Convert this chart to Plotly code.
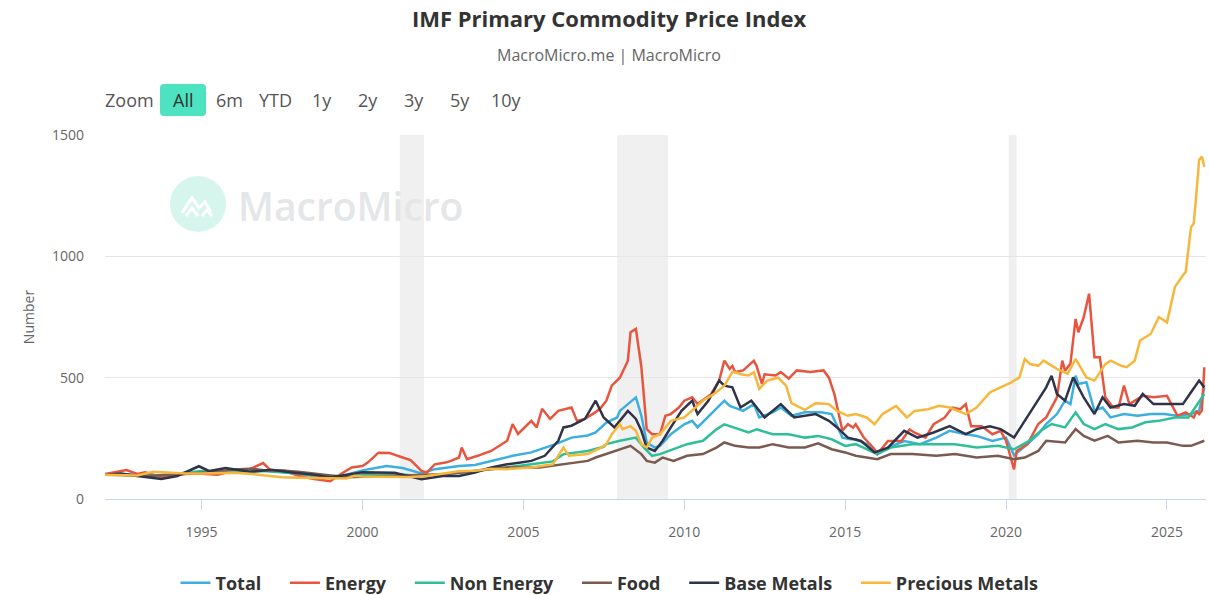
import plotly.graph_objects as go

# ---------------- data ----------------
total_dates = ["1992-01","1992-07","1993-01","1993-07","1994-01","1994-07","1995-01","1995-07","1996-01","1996-07",
               "1997-01","1997-07","1998-01","1998-07","1999-01","1999-07","2000-01","2000-07","2000-10","2001-04",
               "2001-11","2002-04","2003-01","2003-07","2004-01","2004-09","2005-04","2006-01","2006-07","2007-01",
               "2007-04","2007-08","2007-12","2008-01","2008-07","2008-09","2008-11","2009-02","2009-04","2009-08",
               "2010-01","2010-04","2010-06","2010-11","2011-04","2011-06","2011-11","2012-03","2012-05","2012-10",
               "2013-01","2013-05","2013-10","2014-04","2014-08","2014-12","2015-03","2015-05","2015-09","2016-01",
               "2016-05","2016-11","2017-05","2017-11","2018-04","2018-10","2019-02","2019-08","2020-01","2020-04",
               "2020-09","2021-01","2021-04","2021-08","2021-11","2022-01","2022-03","2022-04","2022-07","2022-10",
               "2023-01","2023-04","2023-09","2024-02","2024-07","2024-12","2025-05","2025-10","2026-01","2026-03"]
total_vals = [100,103,100,98,97,105,112,110,115,117,
              118,112,104,95,88,100,118,130,136,128,
              105,123,136,140,157,178,192,226,253,262,
              274,315,336,363,419,343,233,212,219,267,
              308,322,295,350,405,384,363,391,336,357,
              377,343,357,357,350,253,246,246,226,185,
              212,239,226,253,281,267,260,239,253,180,
              226,267,309,350,405,391,508,474,481,364,
              377,336,350,343,350,350,343,350,364,460]

energy_dates = ["1992-01","1992-07","1992-09","1993-01","1993-04","1993-10","1994-03","1994-07","1994-12","1995-07",
                "1996-01","1996-07","1996-12","1997-03","1997-08","1998-01","1998-07","1999-01","1999-05","1999-09",
                "2000-01","2000-03","2000-07","2000-11","2001-04","2001-07","2001-11","2002-01","2002-04","2002-08",
                "2002-10","2003-01","2003-02","2003-04","2003-08","2004-01","2004-07","2004-09","2004-11","2005-04",
                "2005-06","2005-08","2005-11","2006-02","2006-07","2006-09","2006-12","2007-04","2007-06","2007-08",
                "2007-10","2008-01","2008-04","2008-05","2008-07","2008-09","2008-11","2009-01","2009-04","2009-06",
                "2009-08","2009-11","2010-01","2010-04","2010-06","2010-11","2011-02","2011-04","2011-06","2011-07",
                "2011-08","2011-11","2012-03","2012-04","2012-06","2012-07","2012-11","2013-01","2013-04","2013-07",
                "2013-12","2014-05","2014-07","2014-09","2014-12","2015-02","2015-04","2015-05","2015-08","2015-12",
                "2016-01","2016-05","2016-10","2017-01","2017-03","2017-07","2017-10","2018-02","2018-05","2018-08",
                "2018-10","2018-12","2019-04","2019-08","2019-11","2020-01","2020-04","2020-05","2020-09","2021-01",
                "2021-04","2021-08","2021-10","2021-11","2022-01","2022-03","2022-04","2022-06","2022-08","2022-10",
                "2022-12","2023-02","2023-05","2023-07","2023-09","2023-11","2024-04","2024-08","2025-01","2025-05",
                "2025-08","2025-11","2025-12","2026-01","2026-02","2026-03"]
energy_vals = [103,116,119,103,110,89,96,103,105,100,
               116,123,148,116,116,96,82,73,103,130,
               136,150,191,190,171,160,116,109,143,150,
               157,171,212,164,178,198,240,309,268,322,
               295,372,330,363,377,322,330,358,377,405,
               467,500,570,687,701,544,288,267,267,343,
               350,377,405,419,391,432,488,570,536,548,
               523,530,570,548,474,514,509,523,496,530,
               523,530,500,432,281,308,294,308,253,205,
               185,239,239,287,273,253,308,335,377,370,
               391,300,300,267,281,240,122,198,226,309,
               336,419,570,529,557,742,687,749,846,584,
               584,419,377,377,467,391,425,419,425,343,
               357,336,360,350,365,543]

nonenergy_dates = ["1992-01","1992-07","1993-01","1993-07","1994-01","1994-07","1995-01","1995-07","1996-01","1996-07",
                   "1997-01","1997-07","1998-01","1998-07","1999-01","1999-07","2000-01","2000-07","2001-01","2001-07",
                   "2001-11","2002-07","2003-01","2003-07","2004-01","2004-07","2005-04","2005-12","2006-04","2007-01",
                   "2007-07","2007-08","2008-01","2008-07","2008-10","2009-01","2009-04","2009-09","2010-02","2010-08",
                   "2011-01","2011-04","2011-08","2012-01","2012-04","2012-10","2013-04","2013-10","2014-03","2014-08",
                   "2015-01","2015-05","2016-01","2016-06","2017-02","2017-11","2018-06","2019-02","2019-10","2020-04",
                   "2020-09","2021-02","2021-06","2021-11","2022-03","2022-06","2022-10","2023-02","2023-07","2023-12",
                   "2024-05","2024-10","2025-04","2025-09","2026-01","2026-03"]
nonenergy_vals = [100,100,95,96,100,108,115,114,116,115,
                  114,110,105,98,95,96,102,105,103,98,
                  95,102,108,116,125,130,143,155,185,198,
                  215,226,240,253,212,178,185,205,226,240,
                  287,308,294,274,287,267,267,253,260,246,
                  219,226,185,212,226,226,226,212,219,205,
                  235,281,309,295,357,309,288,309,288,295,
                  316,322,336,336,398,433]

food_dates = ["1992-01","1992-07","1993-01","1993-07","1994-01","1994-07","1995-01","1995-07","1996-01","1996-07",
              "1997-01","1997-07","1998-01","1998-07","1999-01","1999-07","2000-01","2000-07","2001-01","2001-07",
              "2002-01","2002-07","2003-01","2003-07","2004-01","2004-07","2005-07","2006-04","2007-01","2007-04",
              "2007-08","2008-01","2008-05","2008-09","2008-11","2009-02","2009-05","2009-09","2010-02","2010-08",
              "2011-01","2011-04","2011-08","2012-01","2012-05","2012-10","2013-04","2013-10","2014-03","2014-08",
              "2015-01","2015-05","2016-01","2016-06","2017-02","2017-11","2018-06","2019-02","2019-10","2020-04",
              "2020-08","2021-01","2021-04","2021-11","2022-03","2022-06","2022-10","2023-03","2023-07","2024-02",
              "2024-08","2025-01","2025-07","2025-10","2026-03"]
food_vals = [100,98,95,96,100,105,108,112,122,125,
             118,117,112,105,98,90,92,94,96,98,
             100,102,108,116,125,130,130,143,157,171,
             185,205,219,185,157,150,171,157,178,185,
             212,233,219,212,212,226,212,212,229,205,
             192,178,164,185,185,178,185,171,178,164,
             171,198,240,233,288,260,240,260,233,240,
             233,233,219,219,240]

base_dates = ["1992-01","1992-07","1993-01","1993-07","1993-10","1994-04","1994-07","1994-12","1995-04","1995-10",
              "1996-07","1997-03","1997-10","1998-07","1999-01","1999-08","2000-01","2000-07","2001-01","2001-11",
              "2002-07","2003-01","2003-07","2004-01","2004-07","2004-12","2005-04","2005-09","2006-02","2006-04",
              "2006-07","2006-12","2007-04","2007-07","2007-11","2008-04","2008-07","2008-09","2008-11","2009-02",
              "2009-05","2009-08","2009-12","2010-04","2010-06","2010-10","2011-02","2011-04","2011-07","2011-10",
              "2012-02","2012-07","2013-01","2013-06","2014-02","2014-07","2014-10","2015-02","2015-07","2015-12",
              "2016-05","2016-11","2017-04","2017-10","2018-04","2018-10","2019-02","2019-07","2019-11","2020-04",
              "2020-08","2021-01","2021-04","2021-06","2021-08","2021-11","2022-02","2022-06","2022-10","2023-01",
              "2023-04","2023-09","2024-01","2024-04","2024-08","2025-01","2025-07","2025-10","2026-01","2026-03"]
base_vals = [100,105,95,88,82,95,110,135,115,128,
             112,120,110,100,89,100,110,109,108,81,
             95,95,109,130,143,150,157,178,240,295,
             302,330,405,336,295,363,330,281,212,198,
             240,295,363,405,350,405,488,467,460,377,
             405,336,391,336,350,322,295,253,239,192,
             212,281,253,274,300,267,288,300,288,253,
             322,405,460,508,433,405,501,419,350,419,
             377,391,384,433,391,391,391,440,488,460]

precious_dates = ["1992-01","1992-07","1993-01","1993-07","1994-01","1994-07","1995-01","1995-07","1996-01","1996-07",
                  "1997-01","1997-07","1998-01","1998-07","1999-01","1999-07","1999-10","2000-01","2000-07","2001-01",
                  "2001-07","2002-01","2002-07","2003-01","2003-07","2004-01","2004-07","2005-01","2005-04","2005-12",
                  "2006-04","2006-06","2007-01","2007-06","2007-08","2007-10","2008-01","2008-02","2008-05","2008-07",
                  "2008-09","2008-11","2009-01","2009-04","2009-08","2010-01","2010-05","2010-08","2010-12","2011-04",
                  "2011-07","2011-08","2011-10","2012-01","2012-03","2012-05","2012-08","2012-12","2013-03","2013-05",
                  "2013-10","2014-02","2014-07","2014-10","2015-02","2015-05","2015-09","2015-12","2016-03","2016-08",
                  "2016-12","2017-03","2017-08","2017-12","2018-04","2018-10","2019-02","2019-07","2019-11","2020-03",
                  "2020-06","2020-08","2020-10","2021-01","2021-03","2021-08","2021-12","2022-03","2022-07","2022-10",
                  "2023-02","2023-04","2023-08","2023-10","2024-01","2024-03","2024-07","2024-10","2025-01","2025-04",
                  "2025-07","2025-08","2025-10","2025-11","2025-12","2026-01","2026-02","2026-03"]
precious_vals = [100,98,97,112,108,105,105,106,108,104,
                 98,90,88,86,85,84,96,93,92,90,
                 91,95,105,114,116,125,123,128,130,143,
                 212,178,185,212,226,267,308,288,300,281,
                 226,212,253,267,322,336,377,405,432,467,
                 523,523,514,509,523,454,488,500,467,395,
                 367,395,391,363,343,350,336,308,350,384,
                 336,363,370,384,377,350,377,439,460,481,
                 501,577,556,549,570,536,516,577,501,488,
                 556,570,549,543,570,653,680,750,728,874,
                 922,935,1121,1135,1260,1397,1411,1369]

series_names = ["Total", "Energy", "Non Energy", "Food", "Base Metals", "Precious Metals"]
series_dates = [total_dates, energy_dates, nonenergy_dates, food_dates, base_dates, precious_dates]
series_vals = [total_vals, energy_vals, nonenergy_vals, food_vals, base_vals, precious_vals]
series_colors = ["#3cafe0", "#e8553e", "#2fbf97", "#7b5a50", "#2f3448", "#f6b73c"]

recessions = [("2001-03-01", "2001-11-30"), ("2007-12-01", "2009-06-30"), ("2020-02-01", "2020-04-30")]

zoom_labels = ["6m", "YTD", "1y", "2y", "3y", "5y", "10y"]
zoom_label_px = [229, 275, 322, 368, 414, 460, 506]

# ---------------- figure ----------------
W, H = 1209, 595
L, R, T, B = 105, 3, 135, 96
PW, PH = W - L - R, H - T - B
FONT = "Open Sans, sans-serif"


def px(xp):
    return (xp - L) / PW


def py(yp):
    return (H - B - yp) / PH


PAD = "\u00a0" * 4

fig = go.Figure()
for name, d, v, c in zip(series_names, series_dates, series_vals, series_colors):
    fig.add_trace(go.Scatter(x=d, y=v, name=name + PAD, mode="lines",
                             line=dict(color=c, width=2.5),
                             hovertemplate=name + ": %{y}<extra></extra>"))

shapes = []
for a, b in recessions:
    shapes.append(dict(type="rect", xref="x", yref="paper", x0=a, x1=b, y0=0, y1=1,
                       fillcolor="#f0f0f0", line=dict(width=0), layer="below"))

# watermark logo circle
shapes.append(dict(type="circle", xref="paper", yref="paper",
                   x0=px(170), x1=px(226), y0=py(232), y1=py(176),
                   fillcolor="#d6f6ed", line=dict(width=0), layer="below"))
shapes.append(dict(type="path", xref="paper", yref="paper", xsizemode="pixel", ysizemode="pixel",
                   xanchor=px(198), yanchor=py(204),
                   path="M -16,-9 L -6,6 L 1,-4 L 7,2 L 13,-8",
                   line=dict(color="white", width=3), layer="below"))
shapes.append(dict(type="path", xref="paper", yref="paper", xsizemode="pixel", ysizemode="pixel",
                   xanchor=px(198), yanchor=py(204),
                   path="M -12,-12 L -6,-4 L 0,-12 M 4,-12 L 9,-6 L 14,-12",
                   line=dict(color="white", width=3), layer="below"))

# "All" active button background (rounded)
shapes.append(dict(type="path", xref="paper", yref="paper", xsizemode="pixel", ysizemode="pixel",
                   xanchor=px(183), yanchor=py(100),
                   path="M -19,-16 L 19,-16 Q 23,-16 23,-12 L 23,12 Q 23,16 19,16 L -19,16 "
                        "Q -23,16 -23,12 L -23,-12 Q -23,-16 -19,-16 Z",
                   fillcolor="#4de2c0", line=dict(width=0), layer="above"))


def ann(text, x, y, size, color, **kw):
    return dict(text=text, xref="paper", yref="paper", x=px(x), y=py(y),
                xanchor="center", yanchor="middle", showarrow=False,
                font=dict(family=FONT, size=size, color=color, **kw))


annotations = [
    ann("MacroMicro.me | MacroMicro", 609, 55, 16, "#666666"),
    ann("MacroMicro", 350, 205, 39, "#e5e6e8", weight=600),
    ann("Zoom", 129, 100, 18, "#555555"),
    ann("All", 183, 100, 18, "#333333"),
]
for lab, xp in zip(zoom_labels, zoom_label_px):
    annotations.append(ann(lab, xp, 100, 18, "#555555"))

fig.update_layout(
    width=W, height=H,
    margin=dict(l=L, r=R, t=T, b=B, pad=0, autoexpand=False),
    paper_bgcolor="white", plot_bgcolor="white",
    font=dict(family=FONT, color="#666666"),
    title=dict(text="<b>IMF Primary Commodity Price Index</b>", x=609 / W, xanchor="center",
               y=1 - 19 / H, yanchor="middle",
               font=dict(family=FONT, size=22, color="#333333")),
    showlegend=True,
    legend=dict(orientation="h", x=619 / W, xref="container", xanchor="center",
                y=1 - 583 / H, yref="container", yanchor="middle",
                font=dict(family=FONT, size=18, color="#333333", weight="bold"),
                itemwidth=30, tracegroupgap=0, bgcolor="rgba(0,0,0,0)"),
    xaxis=dict(type="date", range=["1992-01-01", "2026-03-20"], showgrid=False,
               tick0="2000-01-01", dtick="M60", tickformat="%Y",
               ticks="outside", ticklen=10, tickcolor="#ccd6eb", tickwidth=1,
               ticklabelstandoff=10, automargin=False,
               showline=True, linecolor="#ccd6eb", linewidth=1,
               tickfont=dict(size=14, color="#666666"), zeroline=False),
    yaxis=dict(range=[0, 1500], tickvals=[0, 500, 1000, 1500], showgrid=True,
               gridcolor="#e6e6e6", gridwidth=1, zeroline=False, showline=False,
               automargin=False,
               tickfont=dict(size=14, color="#666666"), ticklabelstandoff=20,
               title=dict(text="Number", font=dict(size=14, color="#666666"), standoff=14)),
    shapes=shapes,
    annotations=annotations,
    hovermode="x unified",
)

fig.write_html("out.html", config={"displayModeBar": False},
               post_script="document.body.style.margin='0px';")
